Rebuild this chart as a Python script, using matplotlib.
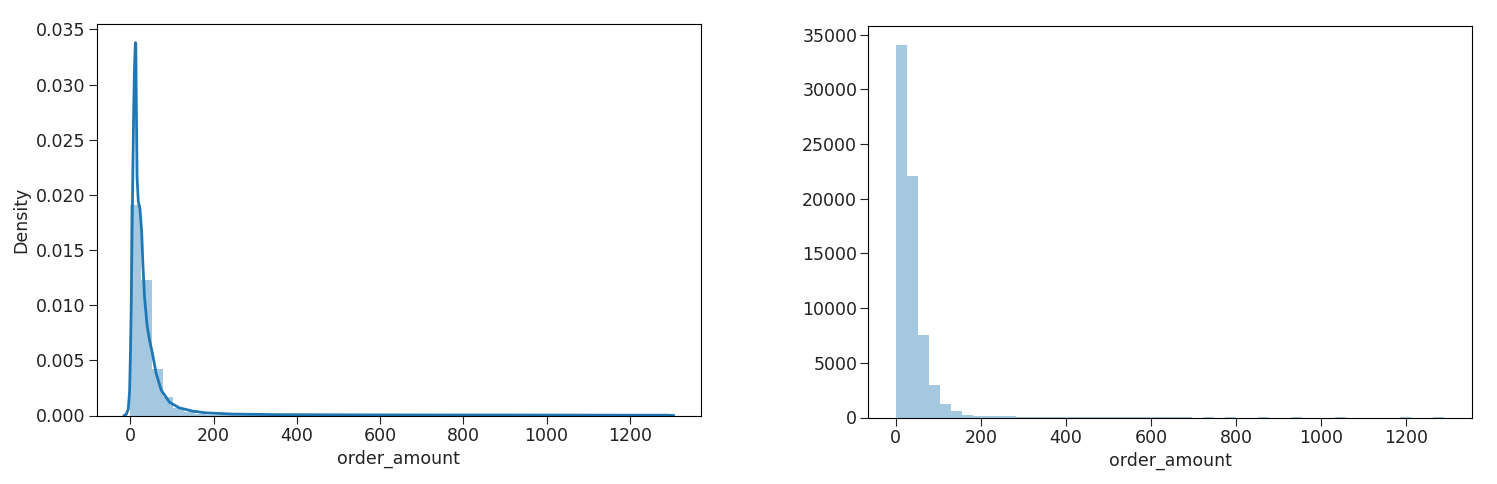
import numpy as np
import matplotlib
matplotlib.use("Agg")
import matplotlib.pyplot as plt

# ---- data ----
bin_start = 0.0
bin_end = 1290.0
n_bins = 50
# counts per bin (right panel)
counts = [34100, 22060, 7545, 2940, 1280, 600, 270, 150, 140, 130, 120,
          6, 5, 4, 3, 3, 2, 2, 2, 1, 1, 1, 1, 1, 1,
          1, 1, 0, 1, 0, 1, 0, 0, 1, 0, 0, 1, 0, 0, 0,
          1, 0, 0, 0, 0, 0, 1, 0, 0, 1]
# KDE curve
kde_x = [-15, -10, -5, -2, 0, 2, 4, 6, 8, 10, 12, 13, 14, 16, 19, 23, 27,
         30, 34, 40, 46, 52, 62, 74, 94, 117, 149, 181, 244, 350, 500, 700,
         1000, 1200, 1290, 1305]
kde_y = [0.0, 0.0001, 0.0006, 0.0022, 0.0055, 0.0100, 0.0165, 0.0225,
         0.0280, 0.0318, 0.0338, 0.0336, 0.0290, 0.0215, 0.0194, 0.0187,
         0.0167, 0.0137, 0.0107, 0.0082, 0.0068, 0.0058, 0.0038, 0.0023,
         0.0012, 0.0007, 0.0004, 0.00024, 0.00013, 0.00008, 0.00006,
         0.00005, 0.00004, 0.00003, 0.00003, 0.0]

x_label = "order_amount"
y_label_left = "Density"

plt.rcParams.update({
    "font.size": 12.5,
    "xtick.major.size": 5.5,
    "ytick.major.size": 5.5,
    "xtick.major.pad": 2.5,
    "ytick.major.pad": 2.5,
    "axes.labelpad": 4,
    "text.color": "#222222",
    "xtick.color": "#222222",
    "ytick.color": "#222222",
    "axes.labelcolor": "#222222",
})

edges = np.linspace(bin_start, bin_end, n_bins + 1)
centers = (edges[:-1] + edges[1:]) / 2

fig = plt.figure(figsize=(14.97, 4.84), dpi=100)
W, H = 1497, 484
ax1 = fig.add_axes([96.7 / W, (H - 415.5) / H, 604.3 / W, 391.5 / H])
ax2 = fig.add_axes([868.3 / W, (H - 417.5) / H, 603.4 / W, 391.5 / H])

c0 = "#1f77b4"
ax1.hist(centers, bins=edges, weights=counts, density=True,
         color=c0, alpha=0.4)
ax1.plot(kde_x, kde_y, color=c0, lw=2)
ax1.set_xlabel(x_label)
ax1.set_ylabel(y_label_left)

ax2.hist(centers, bins=edges, weights=counts, color=c0, alpha=0.4)
ax2.set_xlabel(x_label)

for ax in (ax1, ax2):
    ax.set_xticks([0, 200, 400, 600, 800, 1000, 1200])

fig.savefig("out.png", dpi=100)
